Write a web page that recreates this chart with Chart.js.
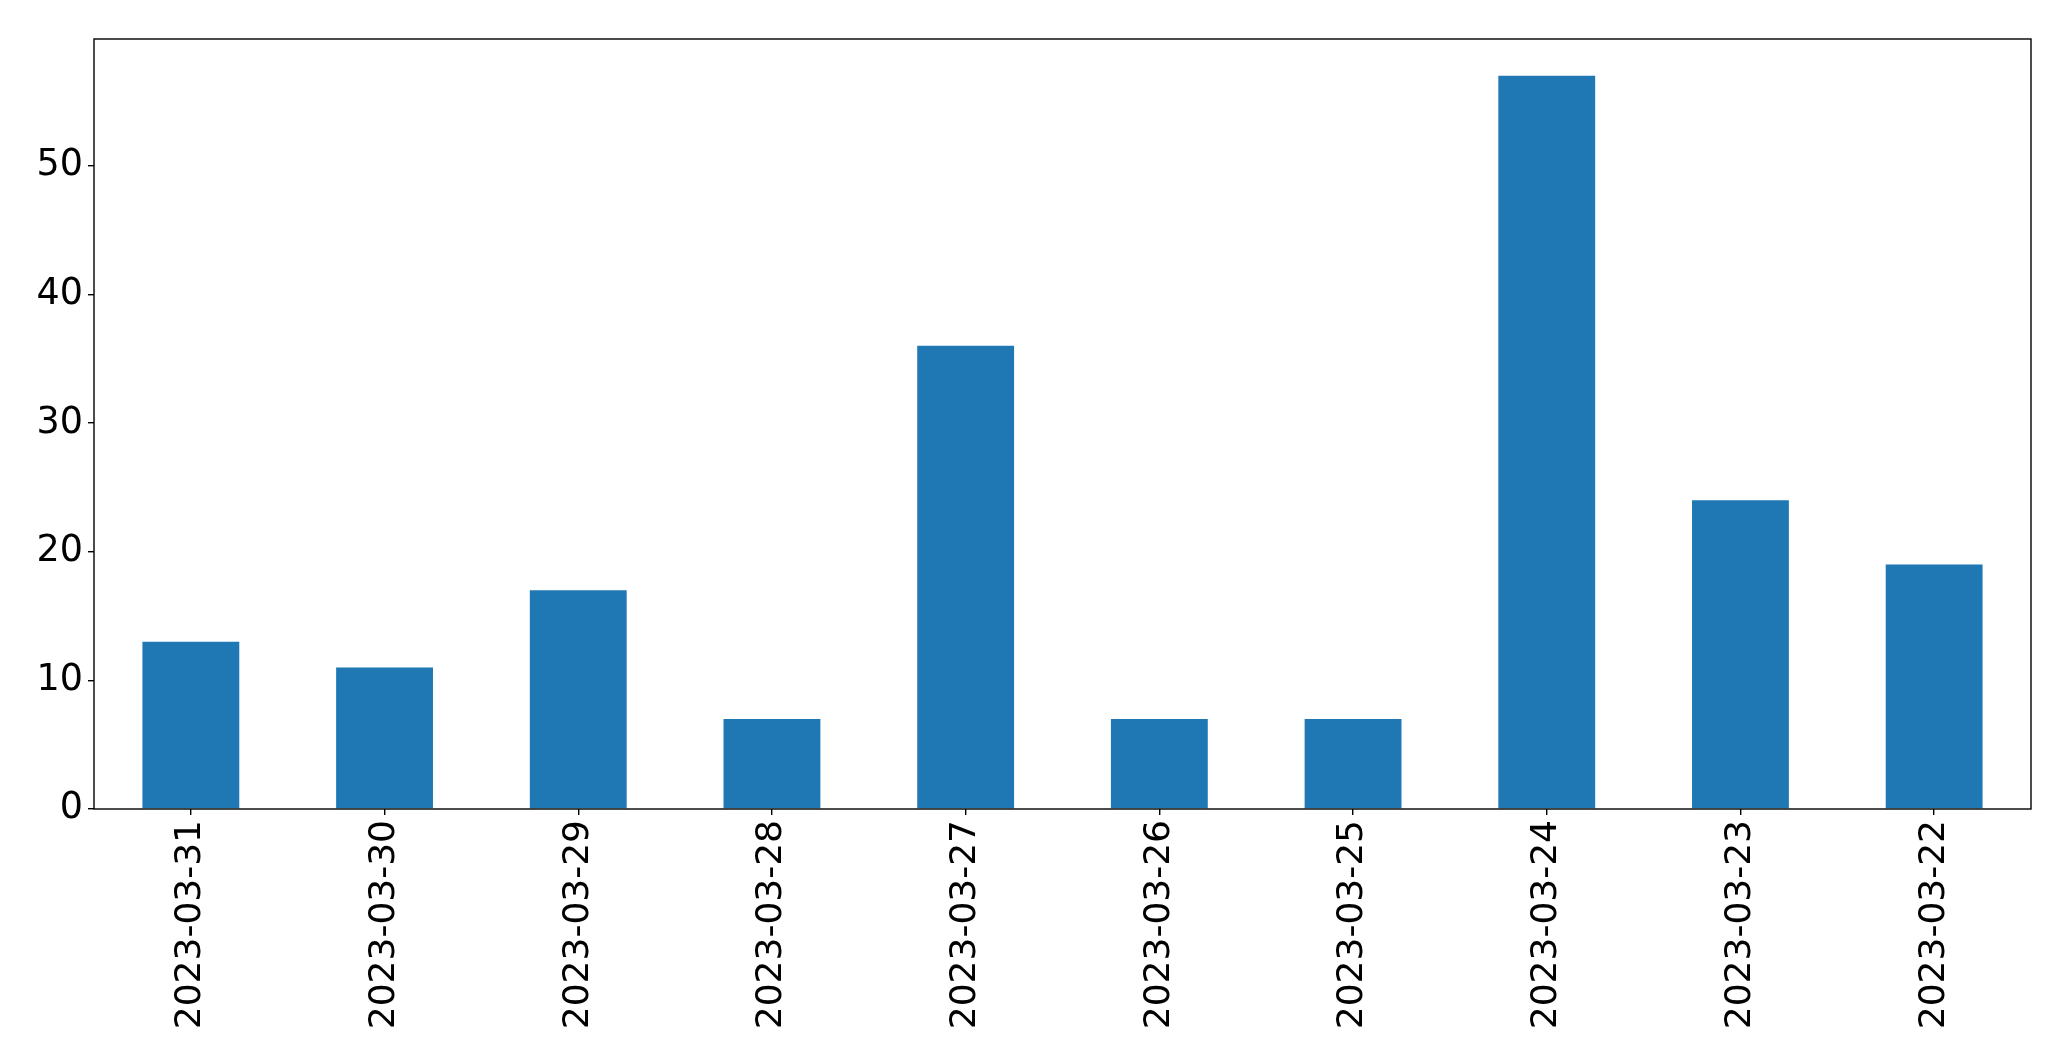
<!DOCTYPE html>
<html>
<head>
<meta charset="utf-8">
<script src="https://cdn.jsdelivr.net/npm/chart.js@4/dist/chart.umd.min.js"></script>
<style>
html,body{margin:0;padding:0;background:#fff;}
#wrap{width:2071px;height:1061px;position:relative;}
</style>
</head>
<body>
<div id="wrap"><canvas id="c" width="2071" height="1061"></canvas></div>
<script>
const categories = ["2023-03-31","2023-03-30","2023-03-29","2023-03-28","2023-03-27","2023-03-26","2023-03-25","2023-03-24","2023-03-23","2023-03-22"];
const values = [13, 11, 17, 7, 36, 7, 7, 57, 24, 19];
const yTicks = [0, 10, 20, 30, 40, 50];
const yMax = 59.85;

const frame = {
  id: 'frame',
  afterDraw(chart) {
    const a = chart.chartArea, ctx = chart.ctx;
    ctx.save();
    ctx.strokeStyle = '#000';
    ctx.lineWidth = 1.4;
    ctx.strokeRect(a.left, a.top, a.right - a.left, a.bottom - a.top);
    ctx.restore();
  }
};

new Chart(document.getElementById('c'), {
  type: 'bar',
  data: {
    labels: categories,
    datasets: [{ data: values, backgroundColor: '#1f77b4', borderWidth: 0, categoryPercentage: 0.5, barPercentage: 1.0 }]
  },
  options: {
    responsive: false,
    animation: false,
    devicePixelRatio: 1,
    layout: { padding: { left: 0, top: 39, right: 40, bottom: 0 } },
    plugins: { legend: { display: false }, tooltip: { enabled: false } },
    scales: {
      x: {
        grid: { display: true, offset: false, drawOnChartArea: false, drawTicks: true, tickLength: 6, color: '#000', lineWidth: 1.4 },
        border: { display: false },
        ticks: { color: '#000', font: { family: 'DejaVu Sans', size: 36 }, minRotation: 90, maxRotation: 90, padding: 5, autoSkip: false },
        afterFit(s) { s.height = 1061 - 809; }
      },
      y: {
        min: 0, max: yMax,
        afterBuildTicks(s) { s.ticks = yTicks.map(v => ({ value: v })); },
        grid: { display: true, drawOnChartArea: false, drawTicks: true, tickLength: 6, color: '#000', lineWidth: 1.4 },
        border: { display: false },
        ticks: { color: '#000', font: { family: 'DejaVu Sans', size: 36.5 }, padding: 5 },
        afterFit(s) { s.width = 94; }
      }
    }
  },
  plugins: [frame]
});
</script>
</body>
</html>
